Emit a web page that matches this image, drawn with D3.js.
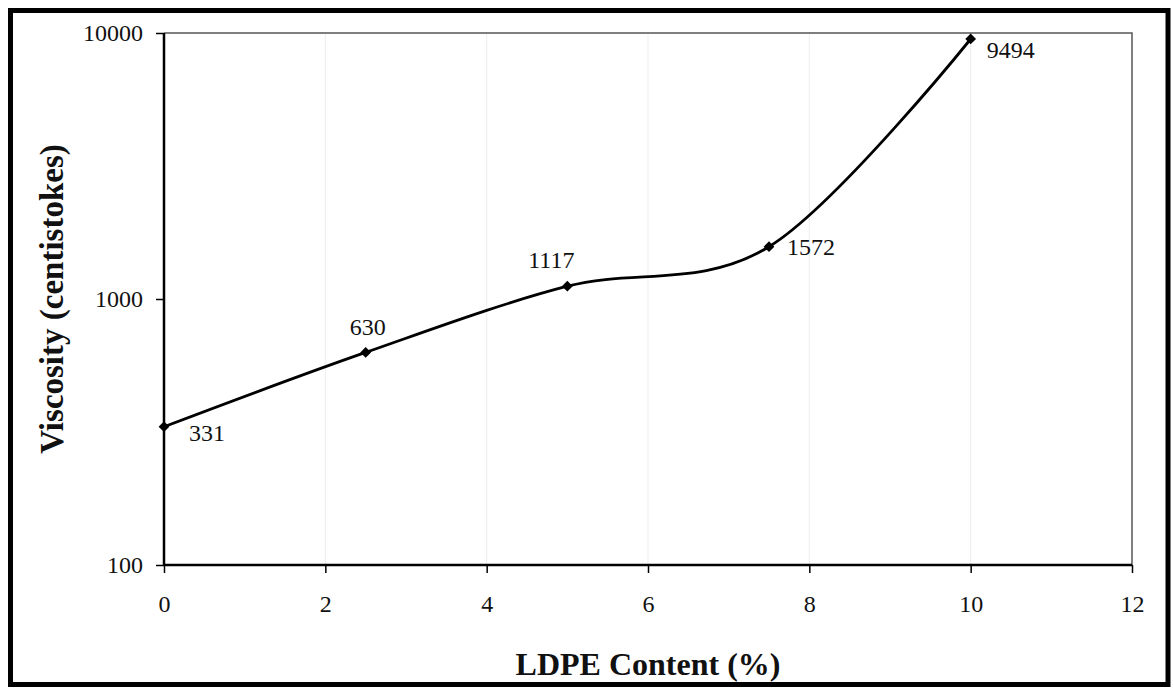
<!DOCTYPE html>
<html>
<head>
<meta charset="utf-8">
<script src="https://cdn.jsdelivr.net/npm/d3@7"></script>
<style>
  html, body { margin: 0; padding: 0; background: #fff; }
  svg { display: block; }
  text { font-family: "Liberation Serif", "Times New Roman", serif; fill: #111; }
</style>
</head>
<body>
<svg id="chart" width="1173" height="694"></svg>
<script>
// LDPE content (%) and measured viscosity (centistokes)
const ldpeContent = [0, 2.5, 5, 7.5, 10];
const viscosity = [331, 630, 1117, 1572, 9494];

const xTicks = [0, 2, 4, 6, 8, 10, 12];
const yTicks = [100, 1000, 10000];

const xTitle = "LDPE Content (%)";
const yTitle = "Viscosity (centistokes)";

const W = 1173, H = 694;
const plot = { left: 164, right: 1132, top: 33, bottom: 565 };

const svg = d3.select("#chart");

// outer frame
svg.append("rect")
  .attr("x", 10.5).attr("y", 10.5)
  .attr("width", 1168 - 10.5).attr("height", 684.5 - 10.5)
  .attr("fill", "none").attr("stroke", "#000").attr("stroke-width", 5);

const x = d3.scaleLinear().domain([0, 12]).range([plot.left, plot.right]);
const y = d3.scaleLog().domain([100, 10000]).range([plot.bottom, plot.top]);

// faint vertical guides
svg.append("g").selectAll("line")
  .data(xTicks.filter(d => d > 0 && d < 12))
  .join("line")
  .attr("x1", d => x(d)).attr("x2", d => x(d))
  .attr("y1", plot.top).attr("y2", plot.bottom)
  .attr("stroke", "#ededed").attr("stroke-width", 1);

// plot area frame (top and right)
svg.append("path")
  .attr("d", `M${plot.left},${plot.top}H${plot.right}V${plot.bottom}`)
  .attr("fill", "none").attr("stroke", "#555").attr("stroke-width", 1.5);

// x axis
const xAxis = svg.append("g")
  .attr("transform", `translate(0,${plot.bottom})`)
  .call(d3.axisBottom(x).tickValues(xTicks).tickFormat(d3.format("d")).tickSize(8).tickPadding(22));
xAxis.select(".domain").attr("stroke", "#000").attr("stroke-width", 2.5)
  .attr("d", `M${plot.left},0H${plot.right}`);
xAxis.selectAll(".tick line").attr("stroke", "#000").attr("stroke-width", 1.5);
xAxis.selectAll(".tick text")
  .attr("font-family", "Liberation Serif, Times New Roman, serif")
  .attr("font-size", 24).attr("fill", "#111").attr("dy", "0.72em");

// y axis
const yAxis = svg.append("g")
  .attr("transform", `translate(${plot.left},0)`)
  .call(d3.axisLeft(y).tickValues(yTicks).tickFormat(d3.format("d")).tickSize(8).tickPadding(13));
yAxis.select(".domain").attr("stroke", "#000").attr("stroke-width", 2.5)
  .attr("d", `M0,${plot.top}V${plot.bottom}`);
yAxis.selectAll(".tick line").attr("stroke", "#000").attr("stroke-width", 1.5);
yAxis.selectAll(".tick text")
  .attr("font-family", "Liberation Serif, Times New Roman, serif")
  .attr("font-size", 24).attr("fill", "#111");

// axis titles
svg.append("text")
  .attr("x", (plot.left + plot.right) / 2).attr("y", 675)
  .attr("text-anchor", "middle")
  .attr("font-size", 32).attr("font-weight", "bold")
  .text(xTitle);

svg.append("text")
  .attr("transform", `translate(63,${(plot.top + plot.bottom) / 2}) rotate(-90)`)
  .attr("text-anchor", "middle")
  .attr("font-size", 33).attr("font-weight", "bold")
  .text(yTitle);

// smoothed series line
const pts = ldpeContent.map((d, i) => ({ x: d, v: viscosity[i] }));
const line = d3.line()
  .x(d => x(d.x)).y(d => y(d.v))
  .curve(d3.curveCardinal.tension(0));

svg.append("path")
  .datum(pts)
  .attr("d", line)
  .attr("fill", "none").attr("stroke", "#000").attr("stroke-width", 2.8);

// diamond markers
svg.append("g").selectAll("path")
  .data(pts)
  .join("path")
  .attr("transform", d => `translate(${x(d.x)},${y(d.v)}) rotate(45)`)
  .attr("d", "M-3.8,-3.8H3.8V3.8H-3.8Z")
  .attr("fill", "#000");

// value labels, placed around each point
const labelPlacement = [
  { dx: 25, dy: 14, anchor: "start" },
  { dx: 2, dy: -17, anchor: "middle" },
  { dx: -16, dy: -18, anchor: "middle" },
  { dx: 18, dy: 8, anchor: "start" },
  { dx: 16, dy: 19, anchor: "start" }
];

svg.append("g").selectAll("text")
  .data(pts)
  .join("text")
  .attr("x", (d, i) => x(d.x) + labelPlacement[i].dx)
  .attr("y", (d, i) => y(d.v) + labelPlacement[i].dy)
  .attr("text-anchor", (d, i) => labelPlacement[i].anchor)
  .attr("font-size", 24)
  .text(d => d.v);
</script>
</body>
</html>
